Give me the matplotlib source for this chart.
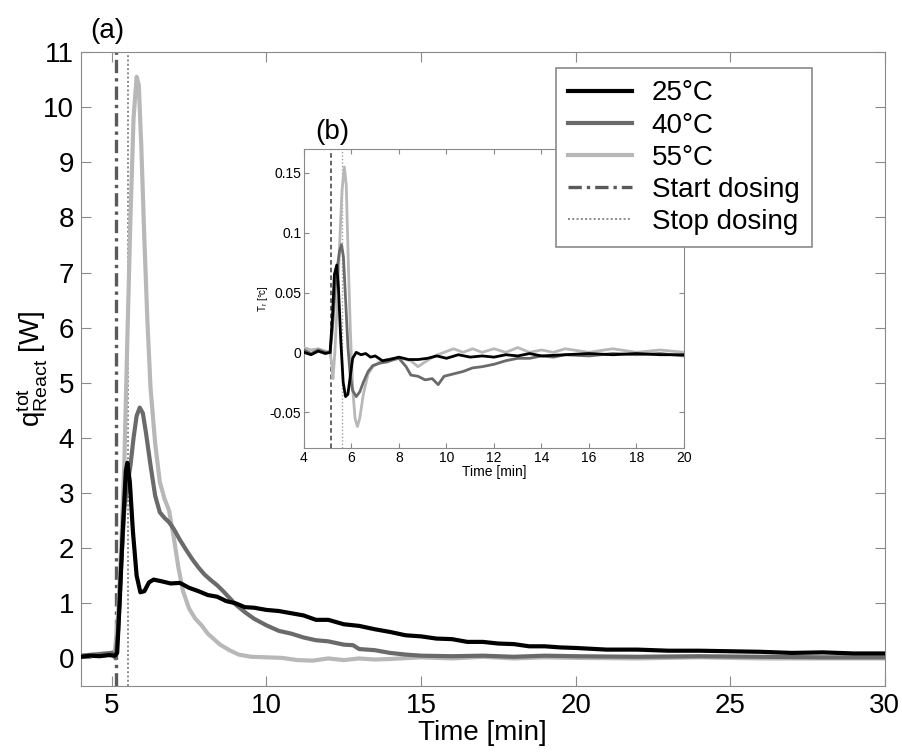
import matplotlib
matplotlib.use("Agg")
import matplotlib.pyplot as plt

plt.rcParams['font.family'] = ['Liberation Sans', 'DejaVu Sans']
plt.rcParams['mathtext.fontset'] = 'custom'
plt.rcParams['mathtext.rm'] = 'Liberation Sans'
plt.rcParams['mathtext.it'] = 'Liberation Sans'

# ---------------- main panel data (q_React^tot [W] vs time [min]) ----------------
t25 = [4.0, 4.3, 4.6, 4.9, 5.1, 5.17, 5.25, 5.35, 5.45, 5.5, 5.58, 5.68, 5.8, 5.92,
       6.05, 6.2, 6.35, 6.6, 6.9, 7.2, 7.5, 7.8, 8.1, 8.4, 8.7, 9.0, 9.3, 9.6, 10.0,
       10.4, 10.8, 11.2, 11.6, 12.0, 12.5, 13.0, 13.5, 14.0, 14.5, 15.0, 15.5, 16.0,
       16.5, 17.0, 17.5, 18.0, 18.5, 19.0, 19.5, 20.0, 21, 22, 23, 24, 25, 26, 27,
       28, 29, 30]
q25 = [0.03, 0.05, 0.04, 0.06, 0.05, 0.1, 1.0, 2.3, 3.4, 3.55, 3.2, 2.3, 1.5, 1.2,
       1.22, 1.38, 1.43, 1.4, 1.36, 1.37, 1.28, 1.22, 1.15, 1.12, 1.04, 1.0, 0.93,
       0.92, 0.88, 0.86, 0.82, 0.78, 0.7, 0.7, 0.62, 0.59, 0.53, 0.48, 0.42, 0.40,
       0.36, 0.35, 0.3, 0.30, 0.27, 0.26, 0.22, 0.22, 0.2, 0.19, 0.16, 0.16, 0.14,
       0.14, 0.13, 0.12, 0.1, 0.11, 0.09, 0.09]

t40 = [4.0, 4.5, 5.0, 5.12, 5.2, 5.3, 5.4, 5.5, 5.6, 5.7, 5.8, 5.9, 6.0, 6.1, 6.25,
       6.4, 6.55, 6.7, 6.85, 7.0, 7.2, 7.4, 7.6, 7.8, 8.0, 8.2, 8.4, 8.6, 8.8, 9.0,
       9.3, 9.6, 10.0, 10.4, 10.8, 11.2, 11.6, 12.0, 12.5, 12.8, 13.0, 13.5, 14.0,
       14.5, 15.0, 16, 17, 18, 19, 20, 22, 24, 26, 28, 30]
q40 = [0.05, 0.07, 0.1, 0.0, 0.5, 1.7, 2.7, 3.15, 3.5, 4.0, 4.4, 4.55, 4.45, 4.1,
       3.5, 2.95, 2.65, 2.55, 2.47, 2.35, 2.15, 1.97, 1.8, 1.65, 1.52, 1.42, 1.33,
       1.22, 1.1, 0.98, 0.84, 0.72, 0.6, 0.5, 0.45, 0.38, 0.33, 0.31, 0.25, 0.24,
       0.17, 0.15, 0.1, 0.07, 0.05, 0.04, 0.05, 0.03, 0.05, 0.04, 0.03, 0.04, 0.03,
       0.02, 0.02]

t55 = [4.0, 4.5, 5.0, 5.1, 5.2, 5.3, 5.4, 5.5, 5.6, 5.7, 5.8, 5.87, 5.95, 6.05,
       6.15, 6.25, 6.4, 6.55, 6.7, 6.85, 7.0, 7.15, 7.3, 7.5, 7.7, 7.9, 8.1, 8.3,
       8.5, 8.8, 9.1, 9.5, 10.0, 10.5, 11.0, 11.5, 12.0, 12.5, 13.0, 13.5, 14.0,
       15, 16, 17, 18, 19, 20, 22, 24, 26, 28, 30]
q55 = [0.05, 0.08, 0.1, 0.15, 0.8, 2.0, 3.5, 5.8, 8.0, 9.8, 10.55, 10.4, 9.3, 7.6,
       6.1, 4.9, 3.9, 3.2, 2.9, 2.68, 2.2, 1.65, 1.22, 0.9, 0.72, 0.6, 0.45, 0.35,
       0.25, 0.15, 0.07, 0.03, 0.02, 0.01, -0.03, -0.04, 0.0, -0.03, 0.0, -0.02,
       -0.01, 0.02, 0.0, 0.03, 0.0, 0.02, 0.01, 0.0, 0.02, 0.0, 0.0, 0.0]

start_dosing = 5.13
stop_dosing = 5.52

# ---------------- inset data (T_r [°C] vs time [min]) ----------------
ti25 = [4.0, 4.3, 4.6, 4.9, 5.1, 5.2, 5.28, 5.38, 5.45, 5.55, 5.65, 5.75, 5.85,
        5.95, 6.05, 6.2, 6.4, 6.6, 6.8, 7.0, 7.3, 7.6, 8.0, 8.4, 8.8, 9.2, 9.6, 10,
        10.5, 11, 11.5, 12, 12.5, 13, 13.5, 14, 15, 16, 17, 18, 19, 20]
Ti25 = [0.0, -0.002, 0.001, -0.001, 0.0, 0.03, 0.065, 0.073, 0.055, 0.01, -0.025,
        -0.037, -0.035, -0.02, -0.005, 0.0, -0.002, -0.001, -0.004, -0.003, -0.007,
        -0.006, -0.004, -0.006, -0.006, -0.005, -0.003, -0.005, -0.002, -0.004,
        -0.003, -0.004, -0.002, -0.003, -0.001, -0.003, -0.002, -0.001, -0.002,
        -0.001, -0.002, -0.002]

ti40 = [4.0, 4.3, 4.6, 4.9, 5.1, 5.2, 5.3, 5.4, 5.5, 5.58, 5.66, 5.75, 5.85, 5.95,
        6.05, 6.2, 6.35, 6.5, 6.7, 6.9, 7.2, 7.5, 7.8, 8.0, 8.3, 8.5, 8.8, 9.1, 9.4,
        9.65, 9.9, 10.3, 10.7, 11.1, 11.5, 12, 12.5, 13, 13.5, 14, 14.5, 15, 16, 17,
        18, 19, 20]
Ti40 = [0.002, -0.001, 0.002, 0.0, 0.0, 0.02, 0.05, 0.07, 0.085, 0.09, 0.08, 0.045,
        0.005, -0.02, -0.032, -0.037, -0.033, -0.025, -0.016, -0.011, -0.009,
        -0.008, -0.006, -0.005, -0.012, -0.019, -0.02, -0.023, -0.022, -0.027,
        -0.02, -0.018, -0.016, -0.013, -0.012, -0.01, -0.007, -0.005, -0.005,
        -0.003, -0.004, -0.002, -0.003, -0.001, -0.002, -0.001, -0.003]

ti55 = [4.0, 4.3, 4.6, 4.9, 5.1, 5.17, 5.22, 5.3, 5.4, 5.5, 5.6, 5.7, 5.78, 5.86,
        5.95, 6.05, 6.15, 6.25, 6.35, 6.5, 6.7, 6.9, 7.2, 7.5, 7.8, 8.1, 8.5, 8.8,
        9.1, 9.5, 9.9, 10.3, 10.7, 11.1, 11.5, 12, 12.5, 13, 13.5, 14, 14.5, 15, 16,
        17, 18, 19, 20]
Ti55 = [0.004, 0.002, 0.003, 0.001, 0.0, -0.01, -0.022, 0.0, 0.04, 0.09, 0.135,
        0.155, 0.14, 0.08, 0.02, -0.03, -0.055, -0.062, -0.055, -0.035, -0.018,
        -0.012, -0.008, -0.006, -0.005, -0.005, -0.007, -0.012, -0.008, -0.003,
        0.0, 0.003, 0.0, 0.003, 0.0, 0.003, 0.0, 0.004, 0.0, 0.002, 0.0, 0.003,
        0.0, 0.003, 0.0, 0.002, 0.0]
inset_start = 5.15
inset_stop = 5.58

labels = ['25°C', '40°C', '55°C', 'Start dosing', 'Stop dosing']
colors = ['#000000', '#6a6a6a', '#b8b8b8']
spine_col = '#8a8a8a'

fig = plt.figure(figsize=(9.02, 7.55), dpi=100)
ax = fig.add_axes([0.0898, 0.0914, 0.891, 0.8397])

h1, = ax.plot(t25, q25, color=colors[0], lw=3.0, label=labels[0], zorder=5)
h2, = ax.plot(t40, q40, color=colors[1], lw=3.0, label=labels[1], zorder=4)
h3, = ax.plot(t55, q55, color=colors[2], lw=3.0, label=labels[2], zorder=3)
h4 = ax.axvline(start_dosing, color='#5a5a5a', lw=2.4, ls=(0, (4, 1.5, 1, 1.5)),
                label=labels[3], zorder=2)
h5 = ax.axvline(stop_dosing, color='#8a8a8a', lw=1.4, ls=(0, (1, 1.2)),
                label=labels[4], zorder=2)

ax.set_xlim(4, 30)
ax.set_ylim(-0.5, 11)
ax.set_xticks([5, 10, 15, 20, 25, 30])
ax.set_yticks(range(0, 12))
ax.tick_params(direction='in', top=True, right=True, labelsize=20, length=7,
               color=spine_col, pad=5)
for s in ax.spines.values():
    s.set_color(spine_col)
ax.set_xlabel('Time [min]', fontsize=20, labelpad=1)
ax.set_ylabel(r'$\mathrm{q}^{\mathrm{tot}}_{\mathrm{React}}$ [W]', fontsize=20, labelpad=-5)
ax.text(0.012, 1.012, '(a)', transform=ax.transAxes, fontsize=20, ha='left', va='bottom')

# ---------------- inset ----------------
ax2 = fig.add_axes([0.337, 0.4066, 0.4213, 0.396])
ax2.plot(ti25, Ti25, color=colors[0], lw=2.0, zorder=5)
ax2.plot(ti40, Ti40, color=colors[1], lw=2.0, zorder=4)
ax2.plot(ti55, Ti55, color=colors[2], lw=2.0, zorder=3)
ax2.axvline(inset_start, color='#3a3a3a', lw=1.1, ls=(0, (3, 2)), zorder=2)
ax2.axvline(inset_stop, color='#a0a0a0', lw=1.0, ls=(0, (1, 1.5)), zorder=2)
ax2.set_xlim(4, 20)
ax2.set_ylim(-0.08, 0.17)
ax2.set_xticks(range(4, 21, 2))
ax2.set_yticks([-0.05, 0, 0.05, 0.1, 0.15])
ax2.set_yticklabels(['-0.05', '0', '0.05', '0.1', '0.15'])
ax2.tick_params(direction='in', top=True, right=True, labelsize=10, length=3.5,
                color=spine_col, pad=2)
for s in ax2.spines.values():
    s.set_color(spine_col)
ax2.set_xlabel('Time [min]', fontsize=10, labelpad=0)
ax2.set_ylabel(r'T$_\mathrm{r}$ [°c]', fontsize=7, labelpad=0)
ax2.text(0.03, 1.015, '(b)', transform=ax2.transAxes, fontsize=20, ha='left', va='bottom')

# legend drawn on top of everything (figure level)
leg = fig.legend(handles=[h1, h2, h3, h4, h5], labels=labels, loc='upper right',
                 bbox_to_anchor=(0.900, 0.910), borderaxespad=0, fontsize=20,
                 handlelength=2.3, labelspacing=0.22, borderpad=0.45, fancybox=False,
                 framealpha=1, edgecolor=spine_col, handletextpad=0.7)
leg.get_frame().set_linewidth(1.2)
leg.set_zorder(10)

fig.savefig('out.png', dpi=100)
